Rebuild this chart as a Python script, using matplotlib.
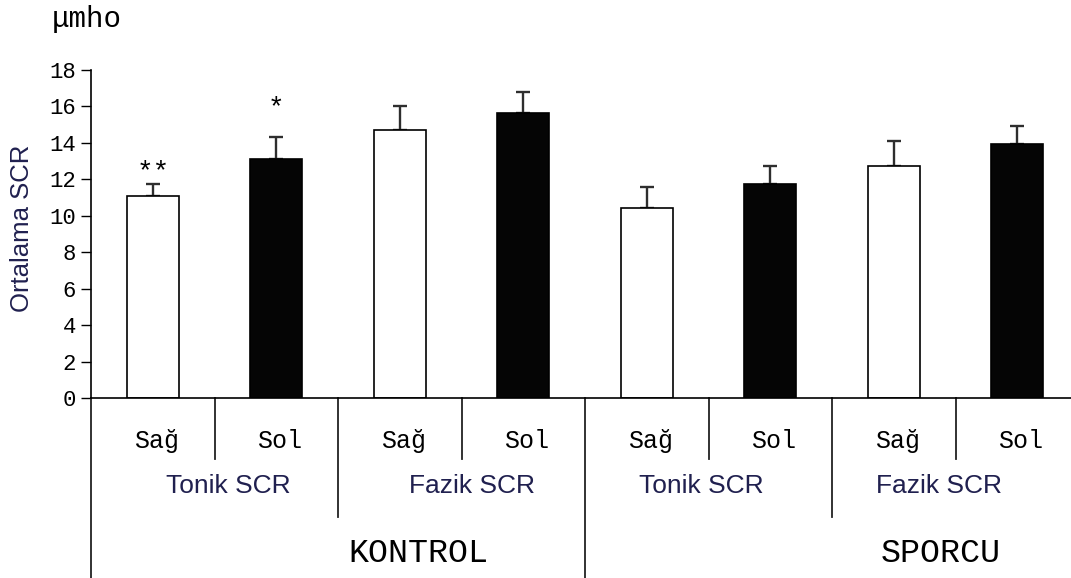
import matplotlib.pyplot as plt
import matplotlib.transforms as mtransforms

# values (upper error bar only)
groups = ["KONTROL", "SPORCU"]
measures = ["Tonik SCR", "Fazik SCR"]
sides = ["Sağ", "Sol"]
means = [11.1, 13.1, 14.7, 15.65, 10.45, 11.75, 12.75, 13.95]
errs = [0.65, 1.25, 1.3, 1.15, 1.15, 1.0, 1.35, 0.95]
stars = {0: ("**", 11.7), 1: ("*", 15.2)}
yticks = list(range(0, 19, 2))

MONO = "Liberation Mono"
SANS = "Liberation Sans"
NAVY = "#20204f"

fig = plt.figure(figsize=(10.71, 5.78), dpi=100)
ax = fig.add_axes([0.085, 0.3114, 0.915, 0.5675])

x = list(range(len(means)))
colors = ["white" if i % 2 == 0 else "#050505" for i in x]
ax.bar(x, means, width=0.42, color=colors, edgecolor="black", linewidth=1.2, zorder=2)
ax.errorbar(x, means, yerr=[[0] * len(errs), errs], fmt="none", ecolor="#2e2e2e",
            elinewidth=1.7, capsize=5, capthick=1.7, zorder=1)

for i, (s, lvl) in stars.items():
    ax.text(i, lvl, s, ha="center", va="bottom", fontsize=20, family=MONO)

ax.set_xlim(-0.5, 7.435)
ax.set_ylim(0, 18)
ax.set_yticks(yticks)
ax.set_yticklabels([str(t) for t in yticks], family=MONO, fontsize=16)
ax.tick_params(axis="y", direction="out", length=7, width=1, pad=4)
ax.set_xticks([])
for sp in ("top", "right"):
    ax.spines[sp].set_visible(False)
ax.spines["left"].set_linewidth(1.2)
ax.spines["bottom"].set_linewidth(1.2)

# separators below the axis (data x, axes y)
trans = mtransforms.blended_transform_factory(ax.transData, ax.transAxes)
short, mid, long_ = -0.186, -0.363, -0.6
seps = {-0.5: long_, 0.5: short, 1.5: mid, 2.5: short, 3.5: long_,
        4.5: short, 5.5: mid, 6.5: short}
for sx, depth in seps.items():
    ax.plot([sx, sx], [0, depth], transform=trans, color="#222222",
            linewidth=1.3, clip_on=False)

# side labels
for i in x:
    ax.text(i + 0.03, -0.152, sides[i % 2], transform=trans, ha="center",
            va="baseline", fontsize=18, family=MONO)

# measure labels
m_pos = [0.608, 2.583, 4.443, 6.369]
for k, px in enumerate(m_pos):
    ax.text(px, -0.267, measures[k % 2], transform=trans, ha="center",
            va="center", fontsize=19, family=SANS, color=NAVY)

# group labels
g_pos = [2.15, 6.38]
for k, px in enumerate(g_pos):
    ax.text(px, -0.5, groups[k], transform=trans, ha="center",
            va="baseline", fontsize=24, family=MONO)

fig.text(22 / 1071, 1 - 228.5 / 578, "Ortalama SCR", rotation=90, ha="center",
         va="center", fontsize=18.5, family=SANS, color=NAVY)
fig.text(52 / 1071, 1 - 27 / 578, "μmho", ha="left", va="baseline",
         fontsize=21, family=MONO)

fig.savefig("out.png", dpi=100, facecolor="white")
